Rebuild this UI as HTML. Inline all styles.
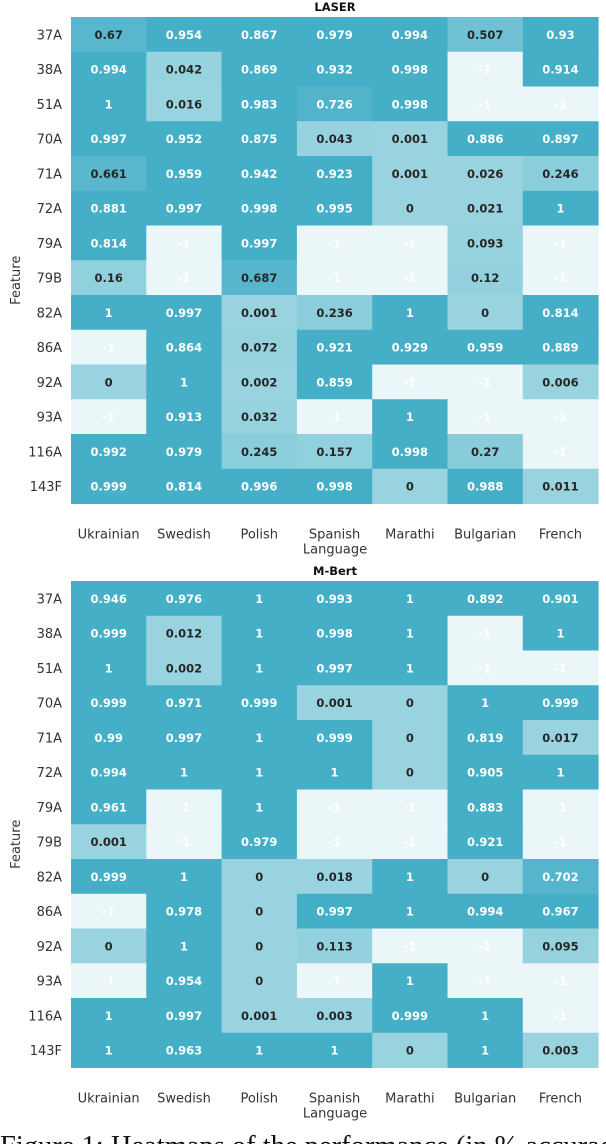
<!DOCTYPE html>
<html><head><meta charset="utf-8"><style>
body{margin:0;background:#fff;width:606px;height:1144px;overflow:hidden;}
svg{display:block;}
</style></head><body>
<svg id="s" width="606" height="1144" xmlns="http://www.w3.org/2000/svg"></svg>
<script>
const features=["37A","38A","51A","70A","71A","72A","79A","79B","82A","86A","92A","93A","116A","143F"];
const languages=["Ukrainian","Swedish","Polish","Spanish","Marathi","Bulgarian","French"];
const laserValues=[
[0.67,0.954,0.867,0.979,0.994,0.507,0.93],
[0.994,0.042,0.869,0.932,0.998,-1,0.914],
[1,0.016,0.983,0.726,0.998,-1,-1],
[0.997,0.952,0.875,0.043,0.001,0.886,0.897],
[0.661,0.959,0.942,0.923,0.001,0.026,0.246],
[0.881,0.997,0.998,0.995,0,0.021,1],
[0.814,-1,0.997,-1,-1,0.093,-1],
[0.16,-1,0.687,-1,-1,0.12,-1],
[1,0.997,0.001,0.236,1,0,0.814],
[-1,0.864,0.072,0.921,0.929,0.959,0.889],
[0,1,0.002,0.859,-1,-1,0.006],
[-1,0.913,0.032,-1,1,-1,-1],
[0.992,0.979,0.245,0.157,0.998,0.27,-1],
[0.999,0.814,0.996,0.998,0,0.988,0.011]];
const mbertValues=[
[0.946,0.976,1,0.993,1,0.892,0.901],
[0.999,0.012,1,0.998,1,-1,1],
[1,0.002,1,0.997,1,-1,-1],
[0.999,0.971,0.999,0.001,0,1,0.999],
[0.99,0.997,1,0.999,0,0.819,0.017],
[0.994,1,1,1,0,0.905,1],
[0.961,-1,1,-1,-1,0.883,-1],
[0.001,-1,0.979,-1,-1,0.921,-1],
[0.999,1,0,0.018,1,0,0.702],
[-1,0.978,0,0.997,1,0.994,0.967],
[0,1,0,0.113,-1,-1,0.095],
[-1,0.954,0,-1,1,-1,-1],
[1,0.997,0.001,0.003,0.999,1,-1],
[1,0.963,1,1,0,1,0.003]];

const NS="http://www.w3.org/2000/svg";
const svg=document.getElementById('s');
function mk(tag,attrs,parent){const e=document.createElementNS(NS,tag);for(const k in attrs)e.setAttribute(k,attrs[k]);(parent||svg).appendChild(e);return e;}
function color(v){
  if(v<0) return "#eaf6f8";
  const a=[0x98,0xd3,0xdf], b=[0x46,0xaf,0xc8];
  const t=Math.pow(Math.min(1,v/0.8),1.5);
  const c=a.map((x,i)=>Math.round(x+(b[i]-x)*t));
  return `rgb(${c[0]},${c[1]},${c[2]})`;
}
const X0=71, CW=75.3, RH=34.75;
function xPos(i){return X0+i*CW;}
function drawMap(values,title,top,prefix){
  const g=mk('g',{});
  
  
  const t=mk('text',{x:335,y:top-6,'text-anchor':'middle','font-family':'DejaVu Sans, Liberation Sans, sans-serif','font-size':'11.5','font-weight':'bold',fill:'#111'},g);
  t.textContent=title;
  
  
  values.forEach((row,r)=>{
    const y=top+r*RH;
    const lab=mk('text',{x:62,y:y+RH/2+5,'text-anchor':'end','font-family':'DejaVu Sans, Liberation Sans, sans-serif','font-size':'13',fill:'#333'},g);
    lab.textContent=features[r];
    
    
    row.forEach((v,c)=>{
      const rect=mk('rect',{x:xPos(c),y:y,width:CW+0.5,height:RH+0.5,fill:color(v)},g);
      
      
      const tx=mk('text',{x:xPos(c)+CW/2,y:y+RH/2+4.5,'text-anchor':'middle','font-family':'DejaVu Sans, Liberation Sans, sans-serif','font-size':'11.5','font-weight':'bold',fill:(v<0||v>0.7)?'#fff':'#262626'},g);
      tx.textContent=String(v);
      
      
    });
  });
  const bottom=top+values.length*RH;
  languages.forEach((l,c)=>{
    const tx=mk('text',{x:xPos(c)+CW/2,y:bottom+35,'text-anchor':'middle','font-family':'DejaVu Sans, Liberation Sans, sans-serif','font-size':'13',fill:'#333'},g);
    tx.textContent=l;
    
    
  });
  const xl=mk('text',{x:335,y:bottom+50,'text-anchor':'middle','font-family':'DejaVu Sans, Liberation Sans, sans-serif','font-size':'13',fill:'#333'},g);
  xl.textContent="Language";
  
  
  const yc=top+values.length*RH/2+20;
  const yl=mk('text',{x:20,y:yc,'text-anchor':'middle','font-family':'DejaVu Sans, Liberation Sans, sans-serif','font-size':'13',fill:'#333',transform:`rotate(-90 20 ${yc})`},g);
  yl.textContent="Feature";
  
  
}
drawMap(laserValues,"LASER",17,'laser');
drawMap(mbertValues,"M-Bert",581,'mbert');
const cap=mk('text',{x:0,y:1155,'font-family':'Liberation Serif, serif','font-size':'28.5',fill:'#111'});
cap.textContent="Figure 1: Heatmaps of the performance (in % accuracy)";


</script>
</body></html>
